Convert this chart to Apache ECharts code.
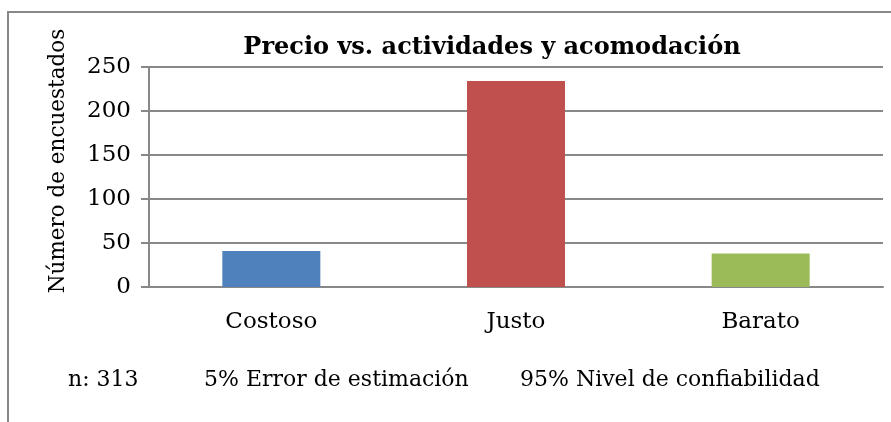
<!DOCTYPE html>
<html>
<head>
<meta charset="utf-8">
<script src="https://cdn.jsdelivr.net/npm/echarts@6/dist/echarts.min.js"></script>
<style>
  html, body { margin: 0; padding: 0; background: #fff; }
  #chart { width: 891px; height: 422px; }
</style>
</head>
<body>
<div id="chart"></div>
<script>
const categories = ['Costoso', 'Justo', 'Barato']
const respondents = [41, 234, 38]
const barColors = ['#4F81BD', '#C0504D', '#9BBB59']
const footerTexts = ['n: 313', '5% Error de estimación', '95% Nivel de confiabilidad']

const serif = '"DejaVu Serif", "Liberation Serif", serif'

const chart = echarts.init(document.getElementById('chart'))

const option = {
  backgroundColor: '#fff',
  animation: false,
  title: {
    text: 'Precio vs. actividades y acomodación',
    left: 487,
    top: 31,
    textAlign: 'center',
    textStyle: {
      fontFamily: serif,
      fontWeight: 'bold',
      fontSize: 24,
      color: '#000'
    }
  },
  grid: {
    left: 149,
    right: 8,
    top: 67,
    bottom: 135
  },
  xAxis: {
    type: 'category',
    data: categories,
    axisLine: { lineStyle: { color: '#888', width: 2 } },
    axisTick: { show: false },
    axisLabel: {
      color: '#000',
      fontFamily: serif,
      fontSize: 23,
      margin: 24
    }
  },
  yAxis: {
    type: 'value',
    min: 0,
    max: 250,
    interval: 50,
    axisLine: { show: true, lineStyle: { color: '#888', width: 2 } },
    axisTick: { show: true, length: 8, lineStyle: { color: '#888', width: 2 } },
    splitLine: { lineStyle: { color: '#888', width: 2 } },
    axisLabel: {
      color: '#000',
      fontFamily: serif,
      fontSize: 23,
      margin: 18
    }
  },
  series: [
    {
      type: 'bar',
      barWidth: 98,
      data: respondents.map((v, i) => ({ value: v, itemStyle: { color: barColors[i] } }))
    }
  ],
  graphic: [
    {
      type: 'rect',
      shape: { x: 8, y: 12, width: 900, height: 440 },
      style: { fill: null, stroke: '#888', lineWidth: 2 },
      silent: true
    },
    {
      type: 'text',
      x: 58,
      y: 161,
      rotation: Math.PI / 2,
      style: {
        text: 'Número de encuestados',
        fontFamily: serif,
        fontSize: 21.5,
        fill: '#000',
        align: 'center',
        verticalAlign: 'middle'
      }
    },
    {
      type: 'text',
      x: 68,
      y: 380,
      style: { text: footerTexts[0], fontFamily: serif, fontSize: 22, fill: '#000', verticalAlign: 'middle' }
    },
    {
      type: 'text',
      x: 204,
      y: 380,
      style: { text: footerTexts[1], fontFamily: serif, fontSize: 22, fill: '#000', verticalAlign: 'middle' }
    },
    {
      type: 'text',
      x: 520,
      y: 380,
      style: { text: footerTexts[2], fontFamily: serif, fontSize: 22, fill: '#000', verticalAlign: 'middle' }
    }
  ]
}

chart.setOption(option)
</script>
</body>
</html>
